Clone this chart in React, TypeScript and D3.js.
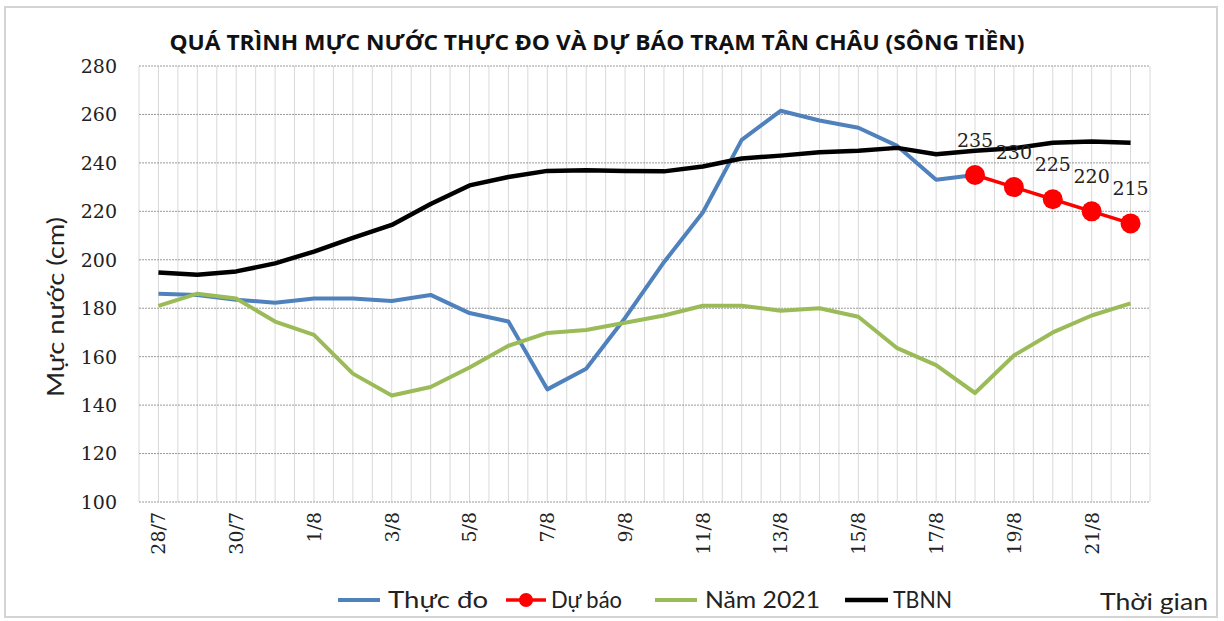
import React from "react";
import * as d3 from "d3";

const categories = [
  "28/7", "29/7", "30/7", "31/7", "1/8", "2/8", "3/8", "4/8", "5/8", "6/8",
  "7/8", "8/8", "9/8", "10/8", "11/8", "12/8", "13/8", "14/8", "15/8", "16/8",
  "17/8", "18/8", "19/8", "20/8", "21/8", "22/8",
];

const thucDo: (number | null)[] = [
  186, 185.5, 183.5, 182.3, 184, 184, 183, 185.5, 178, 174.5,
  146.5, 155, 176, 199, 219.5, 249.5, 261.5, 257.5, 254.5, 247,
  233, 235, null, null, null, null,
];

const duBao: (number | null)[] = [
  null, null, null, null, null, null, null, null, null, null,
  null, null, null, null, null, null, null, null, null, null,
  null, 235, 230, 225, 220, 215,
];

const nam2021: number[] = [
  181, 186, 184, 174.5, 169, 153, 144, 147.5, 155.5, 164.5,
  169.8, 171, 174, 177, 181, 181, 179, 180, 176.5, 163.5,
  156.5, 145, 160.5, 170, 177, 182,
];

const tbnn: number[] = [
  194.7, 193.8, 195.2, 198.5, 203.4, 209, 214.4, 223, 230.7, 234.2,
  236.7, 237, 236.6, 236.5, 238.5, 241.8, 243, 244.4, 245, 246.2,
  243.6, 245, 246, 248.3, 248.8, 248.3,
];

const yTicks = [100, 120, 140, 160, 180, 200, 220, 240, 260, 280];

const title = "QUÁ TRÌNH MỰC NƯỚC THỰC ĐO VÀ DỰ BÁO TRẠM TÂN CHÂU (SÔNG TIỀN)";
const yTitle = "Mực nước (cm)";
const xTitle = "Thời gian";
const seriesNames = ["Thực đo", "Dự báo", "Năm 2021", "TBNN"];

const W = 1224;
const H = 621;
const left = 139;
const right = 1150;
const top = 66;
const bottom = 502;

const BLUE = "#4F81BD";
const RED = "#FF0000";
const GREEN = "#9BBB59";
const BLACK = "#000000";

const serif = "'DejaVu Serif', 'Liberation Serif', serif";
const sans = "Lato, 'Open Sans', 'Liberation Sans', sans-serif";

export default function App() {
  const x = d3.scaleBand<string>().domain(categories).range([left, right]).padding(0);
  const bw = x.bandwidth();
  const cx = (i: number) => (x(categories[i]) as number) + bw / 2;
  const y = d3.scaleLinear().domain([100, 280]).range([bottom, top]);

  const line = d3
    .line<number | null>()
    .defined((d) => d != null)
    .x((_, i) => cx(i))
    .y((d) => y(d as number));

  // vertical gridlines at every half category
  const vGrid: number[] = [];
  for (let k = 0; k <= categories.length * 2; k++) vGrid.push(left + (k * bw) / 2);

  const legendY = 600;
  const legendBase = 608;

  return (
    <svg
      width={W}
      height={H}
      style={{ position: "absolute", left: 0, top: 0, background: "#fff" }}
    >
      <rect x={5} y={7} width={1212} height={610} fill="#fff" stroke="#d4d4d4" strokeWidth={2} />

      <text
        x={597}
        y={50}
        textAnchor="middle"
        fontFamily="'Open Sans', sans-serif"
        fontWeight="bold"
        fontSize={21}
        textLength={855}
        lengthAdjust="spacingAndGlyphs"
        fill="#111"
      >
        {title}
      </text>

      {/* gridlines */}
      {vGrid.map((gx, i) => (
        <line key={"v" + i} x1={gx} x2={gx} y1={top} y2={bottom} stroke="#d9d9d9" strokeWidth={1} />
      ))}
      {yTicks.map((t) => (
        <line
          key={"h" + t}
          x1={left}
          x2={right}
          y1={y(t)}
          y2={y(t)}
          stroke="#9a9a9a"
          strokeWidth={1}
          strokeDasharray="2,1"
        />
      ))}

      {/* y tick labels */}
      {yTicks.map((t) => (
        <text
          key={"yt" + t}
          x={117}
          y={y(t)}
          dy="0.36em"
          textAnchor="end"
          fontFamily={serif}
          fontSize={19}
          fill="#222"
        >
          {t}
        </text>
      ))}

      {/* x tick labels */}
      {categories.map((c, i) =>
        i % 2 === 0 ? (
          <text
            key={"xt" + c}
            transform={`translate(${cx(i)},512) rotate(-90)`}
            dy="0.36em"
            textAnchor="end"
            fontFamily={serif}
            fontSize={19}
            fill="#222"
          >
            {c}
          </text>
        ) : null
      )}

      {/* y axis title */}
      <text
        transform={`translate(64,307) rotate(-90)`}
        textAnchor="middle"
        fontFamily={sans}
        fontSize={24}
        textLength={180}
        lengthAdjust="spacingAndGlyphs"
        fill="#222"
      >
        {yTitle}
      </text>

      {/* series */}
      <path d={line(thucDo) || ""} fill="none" stroke={BLUE} strokeWidth={4} strokeLinejoin="round" />
      <path d={line(nam2021) || ""} fill="none" stroke={GREEN} strokeWidth={4} strokeLinejoin="round" />
      <path d={line(tbnn) || ""} fill="none" stroke={BLACK} strokeWidth={4.5} strokeLinejoin="round" />
      <path d={line(duBao) || ""} fill="none" stroke={RED} strokeWidth={3.5} strokeLinejoin="round" />
      {duBao.map((v, i) =>
        v == null ? null : (
          <g key={"db" + i}>
            <circle cx={cx(i)} cy={y(v)} r={10} fill={RED} />
            <text
              x={cx(i)}
              y={y(v) - 28}
              textAnchor="middle"
              fontFamily={serif}
              fontSize={19}
              fill="#222"
            >
              {v}
            </text>
          </g>
        )
      )}

      {/* legend */}
      <line x1={338} x2={380} y1={legendY} y2={legendY} stroke={BLUE} strokeWidth={4} />
      <text x={388} y={legendBase} fontFamily={sans} fontSize={24} textLength={100} lengthAdjust="spacingAndGlyphs" fill="#222">
        {seriesNames[0]}
      </text>
      <line x1={506} x2={546} y1={legendY} y2={legendY} stroke={RED} strokeWidth={3.5} />
      <circle cx={526} cy={legendY} r={7} fill={RED} />
      <text x={551} y={legendBase} fontFamily={sans} fontSize={24} textLength={71} lengthAdjust="spacingAndGlyphs" fill="#222">
        {seriesNames[1]}
      </text>
      <line x1={655} x2={697} y1={legendY} y2={legendY} stroke={GREEN} strokeWidth={4} />
      <text x={705} y={legendBase} fontFamily={sans} fontSize={24} textLength={115} lengthAdjust="spacingAndGlyphs" fill="#222">
        {seriesNames[2]}
      </text>
      <line x1={845} x2={888} y1={legendY} y2={legendY} stroke={BLACK} strokeWidth={4.5} />
      <text x={893} y={legendBase} fontFamily={sans} fontSize={24} textLength={59} lengthAdjust="spacingAndGlyphs" fill="#222">
        {seriesNames[3]}
      </text>

      <text x={1100} y={610} fontFamily={sans} fontSize={24} textLength={108} lengthAdjust="spacingAndGlyphs" fill="#222">
        {xTitle}
      </text>
    </svg>
  );
}
